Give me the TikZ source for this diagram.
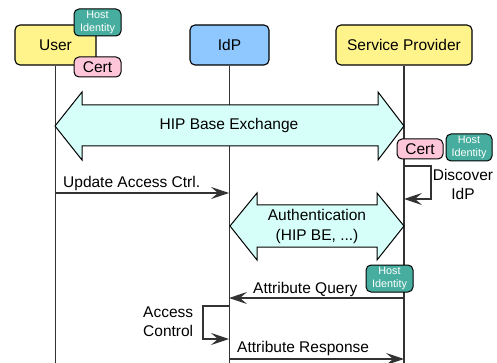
\documentclass[tikz,border=0pt]{standalone}
\usepackage{fontspec}
\setmainfont{Liberation Sans}
\usetikzlibrary{arrows.meta}
\definecolor{boxyellow}{HTML}{FFF48C}
\definecolor{boxblue}{HTML}{8FC8FF}
\definecolor{certpink}{HTML}{FFC6DA}
\definecolor{hiteal}{HTML}{47AE9F}
\definecolor{arrowcyan}{HTML}{D7FFF9}
\definecolor{linegray}{HTML}{333333}
\tikzset{
 actor/.style={draw=black, line width=1.1pt, rounded corners=5pt, minimum height=40pt, font=\fontsize{15.5}{18}\selectfont, inner sep=0},
 lifeline/.style={draw=linegray, line width=1.4pt},
 certbadge/.style={draw=black, line width=1pt, fill=certpink, rounded corners=5pt, minimum width=47pt, minimum height=20pt, inner sep=0, font=\fontsize{15.5}{18}\selectfont},
 hostid/.style={draw=black, line width=1pt, fill=hiteal, rounded corners=5pt, minimum width=47pt, minimum height=27pt, inner sep=0, text=white, align=center, font=\fontsize{10.8}{13.5}\selectfont},
 msg/.style={line width=1.2pt, draw=linegray, -{Stealth[length=18pt,width=12pt,inset=7pt]}},
 lbl/.style={font=\fontsize{15.5}{19}\selectfont, inner sep=0},
 bigarrow/.style={draw=black, line width=1pt, fill=arrowcyan},
}
\begin{document}
\begin{tikzpicture}[x=1pt,y=-1pt]
\useasboundingbox (0,0) rectangle (497,363);
\coordinate (bottom) at (0,363);
% actors
\node[actor, fill=boxyellow, minimum width=81pt] (user) at (55.5,45) {User};
\node[actor, fill=boxblue, minimum width=79pt] (idp) at (229.5,45) {IdP};
\node[actor, fill=boxyellow, minimum width=136pt] (sp) at (404,45) {Service Provider};
% lifelines
\draw[lifeline] (user.south) -- (user.south |- bottom);
\draw[lifeline] (idp.south) -- (idp.south |- bottom);
\draw[lifeline] (sp.south) -- (sp.south |- bottom);
% badges on user
\node[hostid] (uhost) at (97.5,22.5) {Host\\Identity};
\node[certbadge] (ucert) at (97.5,67) {Cert};
% HIP base exchange
\draw[bigarrow] (55,126) -- (82,92) -- (82,105) -- (378,105) -- (378,92) -- (404,126)
  -- (378,160) -- (378,146) -- (82,146) -- (82,160) -- cycle;
\node[lbl, anchor=base] (hipbe) at (229,130) {HIP Base Exchange};
% SP badges
\node[certbadge, minimum width=46pt] (scert) at (420,149) {Cert};
\node[hostid, minimum width=46pt] (shost) at (469,147.5) {Host\\Identity};
% update access ctrl
\coordinate (u1) at (55,193);
\coordinate (i1) at (229,193);
\draw[msg] (u1) -- (i1);
\node[lbl, anchor=base west] (updl) at (63,188) {Update Access Ctrl.};
% discover IdP
\coordinate (s1) at (404,166);
\coordinate (s2) at (404,199);
\draw[msg] (s1) -- (431,166) |- (s2);
\node[lbl, align=center, font=\fontsize{15.5}{19}\selectfont] (disc) at (463,184) {Discover\\IdP};
% authentication
\draw[bigarrow] (230,226) -- (257,193) -- (257,205) -- (377,205) -- (377,193) -- (404,226)
  -- (377,260) -- (377,247) -- (257,247) -- (257,260) -- cycle;
\node[lbl, align=center, font=\fontsize{15.5}{20}\selectfont] (auth) at (317,226.5) {Authentication\\(HIP BE, ...)};
% attribute query
\node[hostid] (qhost) at (389.5,278.5) {Host\\Identity};
\coordinate (s3) at (404,298);
\coordinate (i4) at (229,298);
\draw[msg] (s3) -- (i4);
\node[lbl, anchor=base west] (aql) at (253,293) {Attribute Query};
% access control
\coordinate (i2) at (229,306);
\coordinate (i3) at (229,339);
\draw[msg] (i2) -- (203,306) |- (i3);
\node[lbl, align=left, anchor=west, font=\fontsize{15.5}{19}\selectfont] (acl) at (143,321.5) {Access\\Control};
% attribute response
\coordinate (i5) at (229,359);
\coordinate (s4) at (404,359);
\draw[msg] (i5) -- (s4);
\node[lbl, anchor=base west] (arl) at (237,352) {Attribute Response};
\end{tikzpicture}
\end{document}
